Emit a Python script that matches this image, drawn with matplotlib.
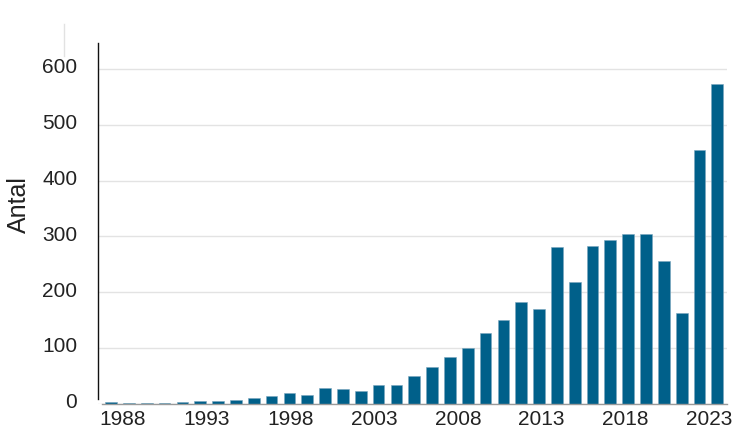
import matplotlib
matplotlib.use("Agg")
import matplotlib.pyplot as plt
import matplotlib.transforms as tfrms
from matplotlib.lines import Line2D
import numpy as np

plt.rcParams['font.family'] = ['Liberation Sans', 'DejaVu Sans']

# antal per år
years = list(range(1989, 2024))
antal = [2, 1, 1, 1, 2, 5, 4, 6, 10, 13, 19, 16, 28, 26, 23,
         34, 34, 50, 65, 84, 99, 126, 150, 182, 170, 280, 218,
         283, 293, 305, 305, 256, 163, 455, 573]
tick_years = [1988, 1993, 1998, 2003, 2008, 2013, 2018, 2023]
y_ticks = [0, 100, 200, 300, 400, 500, 600]

W, H = 735, 427
fig = plt.figure(figsize=(W / 100, H / 100), dpi=100)
ax = fig.add_axes([98 / W, 22.4 / H, (727 - 98) / W, (404.6 - 44) / H])

x = np.arange(len(years))
ax.bar(x, antal, width=0.66, color='#00608a', edgecolor='#7aa6bd', linewidth=0.4)
ax.set_xlim(-0.735, 34.54)
ax.set_ylim(0, 646.6)
ax.set_yticks(y_ticks)
ax.set_xticks([])
ax.yaxis.grid(True, color='#e3e3e3', linewidth=1)
ax.set_axisbelow(True)
ax.tick_params(axis='y', length=0, pad=15, labelsize=15, labelcolor='#222222')

for s in ['top', 'right']:
    ax.spines[s].set_visible(False)
ax.spines['left'].set_color('#111111')
ax.spines['left'].set_linewidth(1)
ax.spines['left'].set_bounds(8, 646.6)
ax.spines['bottom'].set_color('#9a9a9a')
ax.spines['bottom'].set_linewidth(1)
ax.spines['bottom'].set_bounds(-0.5, 34.54)

# y labels sit a little above the grid lines
offset = tfrms.ScaledTranslation(0, 4 / 100, fig.dpi_scale_trans)
for lab in ax.get_yticklabels():
    lab.set_transform(lab.get_transform() + offset)

# year labels on their own linear scale
ax2 = ax.twiny()
ax2.set_xlim(1986.51, 2024.07)
ax2.xaxis.set_ticks_position('bottom')
ax2.xaxis.set_label_position('bottom')
ax2.set_xticks(tick_years)
ax2.tick_params(axis='x', length=0, pad=4, labelsize=15, labelcolor='#222222')
for s in ax2.spines.values():
    s.set_visible(False)

fig.text(19 / W, 1 - 205 / H, 'Antal', rotation=90, ha='center', va='center',
         fontsize=18, color='#222222')

fig.add_artist(Line2D([64 / W, 64 / W], [1 - 25 / H, 1 - 57 / H], color='#e2e2e2', lw=1))

fig.savefig('out.png', dpi=100)
